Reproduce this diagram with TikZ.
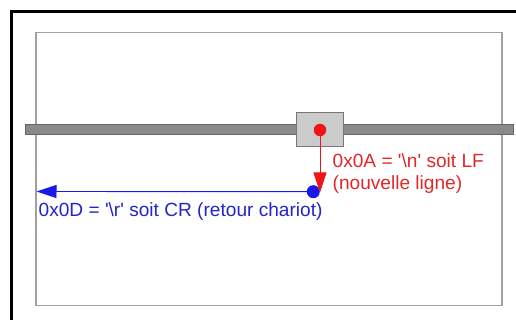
\documentclass[tikz,border=0pt]{standalone}
\usepackage{fontspec}
\setmainfont{Liberation Sans}
\usetikzlibrary{arrows.meta}
\definecolor{lfred}{HTML}{EE1515}
\definecolor{lftext}{HTML}{E02828}
\definecolor{crblue}{HTML}{1818E8}
\definecolor{crtext}{HTML}{2424C8}
\definecolor{railfill}{HTML}{8A8A8A}
\definecolor{railedge}{HTML}{666666}
\definecolor{boxfill}{HTML}{CBCBCB}
\definecolor{boxedge}{HTML}{777777}
\definecolor{pageedge}{HTML}{A0A0A0}
\tikzset{
  lbl/.style={inner sep=0pt, font=\fontsize{19.1}{21}\selectfont},
  dotstyle/.style={circle, inner sep=0pt, minimum size=#1},
  tipstyle/.style={-{Triangle[length=20pt,width=13pt]}, line width=0.9pt}
}
\begin{document}
\begin{tikzpicture}[x=1pt,y=-1pt]
\useasboundingbox (0,0) rectangle (516,320);
% outer frame
\draw[line width=3pt, black] (11,11.5) rectangle (540,340);
% page
\draw[line width=1.2pt, pageedge] (36,32.5) rectangle (502,305.5);
% rail
\node[draw=railedge, fill=railfill, line width=1pt, inner sep=0pt, minimum width=488pt, minimum height=10.5pt] (rail) at (269,129.5) {};
% carriage
\node[draw=boxedge, fill=boxfill, line width=1pt, inner sep=0pt, minimum width=47pt, minimum height=34pt] (carriage) at (320.3,129.5) {};
% blue dot and arrow
\node[dotstyle=13pt, fill=crblue] (bd) at (313.3,191.7) {};
\coordinate (crend) at (36.5,191.5);
\draw[tipstyle, crblue] (bd.center) -- (crend);
% red dot and arrow
\node[dotstyle=12.5pt, fill=lfred] (rd) at (320,130) {};
\coordinate (lfend) at (320,192.5);
\draw[tipstyle, lfred] (rd.center) -- (lfend);
% labels
\node[lbl, text=lftext, anchor=base west] (lf1) at (332.5,168) {0x0A = \textquotesingle\textbackslash n\textquotesingle\ soit LF};
\node[lbl, text=lftext, anchor=base west] (lf2) at (332.5,190) {(nouvelle ligne)};
\node[lbl, text=crtext, anchor=base west] (cr) at (38.5,216.5) {0x0D = \textquotesingle\textbackslash r\textquotesingle\ soit CR (retour chariot)};
\end{tikzpicture}
\end{document}
